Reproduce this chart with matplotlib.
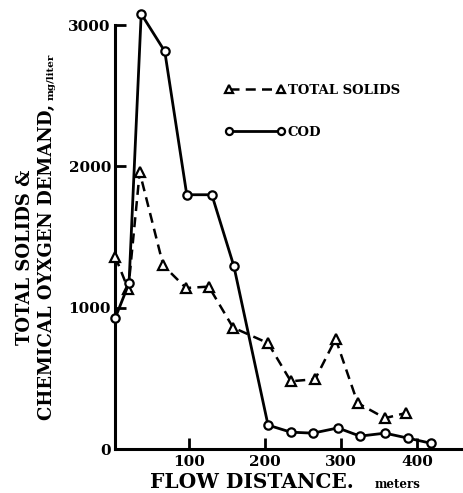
import matplotlib
matplotlib.use("Agg")
import matplotlib.pyplot as plt

# Data
ts_x = [3, 20, 35, 66, 96, 126, 158, 204, 234, 266, 293, 322, 358, 385]
ts_y = [1360, 1130, 1960, 1300, 1140, 1150, 860, 750, 480, 495, 780, 326, 219, 255]

cod_x = [3, 21, 37, 68, 97, 130, 159, 204, 234, 263, 296, 325, 358, 388, 418]
cod_y = [930, 1175, 3080, 2815, 1800, 1800, 1295, 170, 120, 113, 150, 92, 113, 78, 42]

xticks = [100, 200, 300, 400]
yticks = [0, 1000, 2000, 3000]

FONT = "DejaVu Serif"
plt.rcParams["font.family"] = [FONT]
plt.rcParams["font.weight"] = "bold"

fig = plt.figure(figsize=(4.64, 4.93), dpi=100)
ax = fig.add_axes([0.248, 0.089, 0.752, 0.860])

ax.plot(ts_x, ts_y, color="black", lw=1.8, ls=(0, (4, 2.5)), marker="^",
        ms=7, mfc="white", mec="black", mew=1.6, clip_on=False, zorder=3,
        label="TOTAL SOLIDS")
ax.plot(cod_x, cod_y, color="black", lw=2.0, ls="-", marker="o",
        ms=6, mfc="white", mec="black", mew=1.6, clip_on=False, zorder=4,
        label="COD")

ax.set_xlim(2.6, 462)
ax.set_ylim(0, 3000)
ax.set_xticks(xticks)
ax.set_yticks(yticks)
ax.set_xticklabels([str(t) for t in xticks], fontsize=11, fontweight="bold")
ax.set_yticklabels([str(t) for t in yticks], fontsize=11, fontweight="bold")
ax.tick_params(direction="in", length=8, width=2)
ax.tick_params(axis="x", pad=4)
ax.tick_params(axis="y", pad=3)

for s in ["top", "right"]:
    ax.spines[s].set_visible(False)
for s in ["left", "bottom"]:
    ax.spines[s].set_linewidth(2.2)

leg = ax.legend(loc="upper left", bbox_to_anchor=(0.28, 0.89), frameon=False,
                numpoints=2, handlelength=4.6, handletextpad=0.2,
                labelspacing=2.2, markerscale=0.85,
                prop={"family": FONT, "weight": "bold", "size": 9.5})

# Y label (two lines, second with small unit)
fig.text(25 / 464, 1 - 257 / 493, "TOTAL SOLIDS &", rotation=90,
         ha="center", va="center", fontsize=13, fontweight="bold")
fig.text(47 / 464, 1 - 420 / 493, "CHEMICAL OYXGEN DEMAND,", rotation=90,
         ha="center", va="bottom", fontsize=13, fontweight="bold")
fig.text(51 / 464, 1 - 100 / 493, "mg/liter", rotation=90,
         ha="center", va="bottom", fontsize=7.5, fontweight="bold")

# X label
fig.text(150 / 464, 1 - 488 / 493, "FLOW DISTANCE.", ha="left", va="baseline",
         fontsize=14.5, fontweight="bold")
fig.text(375 / 464, 1 - 488 / 493, "meters", ha="left", va="baseline",
         fontsize=8.5, fontweight="bold")

fig.savefig("out.png", dpi=100)
